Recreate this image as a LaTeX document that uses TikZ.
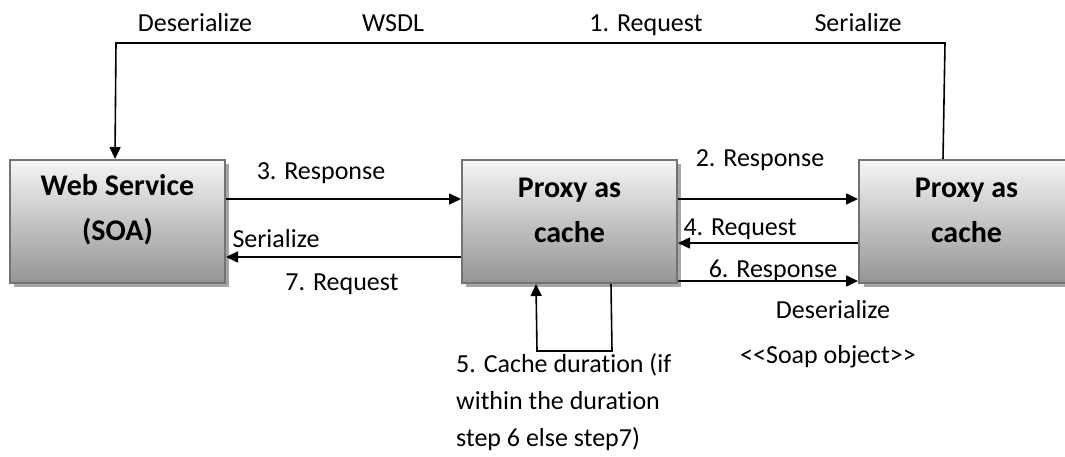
\documentclass[tikz,border=0pt]{standalone}
\usepackage{fontspec}
\setmainfont{Carlito}[Ligatures={NoCommon}]
\usetikzlibrary{arrows.meta,calc}
\tikzset{
  box/.style={rectangle, minimum width=215pt, minimum height=123pt, inner sep=0pt,
    top color=white!96!black, bottom color=black!42, draw=black!55, line width=2pt},
  boxtext/.style={align=center, font=\fontsize{30}{45}\selectfont\bfseries},
  lbl/.style={inner sep=0pt, anchor=base, font=\fontsize{26}{37}\selectfont},
  conn/.style={line width=1.6pt, -{Triangle[length=12pt,width=11pt]}},
}
\begin{document}
\begin{tikzpicture}[x=1pt,y=-1pt]
\useasboundingbox (0,0) rectangle (1065,457);
\clip (0,0) rectangle (1065,457);
% shadows
\fill[black!35] (14,164) rectangle (229,287);
\fill[black!35] (466,164) rectangle (681,287);
\fill[black!35] (864,164) rectangle (1079,287);
% boxes
\node[box] (ws) at (117.5,221.5) {};
\node[box] (p1) at (569.5,221.5) {};
\node[box] (p2) at (966.5,221.5) {};
\node[boxtext] (wst) at (117.5,210) {Web Service\\(SOA)};
\node[boxtext] (p1t) at (569.5,210) {Proxy as\\cache};
\node[boxtext] (p2t) at (966.5,210) {Proxy as\\cache};
% top loop
\coordinate (tr) at (945,43);
\coordinate (tl) at (116,43);
\draw[conn] ([xshift=85pt]p2.north west) -- (tr) -- (tl) -- ([xshift=106pt]ws.north west);
% horizontal connectors
\draw[conn] ([yshift=22.5pt]ws.east) -- ([yshift=22.5pt]p1.west);
\draw[conn] ([yshift=-35.5pt]p1.west) -- ([yshift=-35.5pt]ws.east);
\draw[conn] ([yshift=22.5pt]p1.east) -- ([yshift=22.5pt]p2.west);
\draw[conn] ([yshift=-21.5pt]p2.west) -- ([yshift=-21.5pt]p1.east);
\draw[conn] ([yshift=-59.5pt]p1.east) -- ([yshift=-59.5pt]p2.west);
% self loop
\coordinate (lr) at (612,351);
\coordinate (ll) at (537,351);
\draw[conn] ([xshift=150pt]p1.south west) -- (lr) -- (ll) -- ([xshift=75pt]p1.south west);
% labels
\node[lbl] (l1) at (195,32) {Deserialize};
\node[lbl] (l2) at (393,32) {WSDL};
\node[lbl] (l3) at (646,32) {1. Request};
\node[lbl] (l4) at (858,32) {Serialize};
\node[lbl] (l5) at (321,180) {3. Response};
\node[lbl] (l6) at (276,247) {Serialize};
\node[lbl] (l7) at (342,290) {7. Request};
\node[lbl] (l8) at (760,167) {2. Response};
\node[lbl] (l9) at (740,235) {4. Request};
\node[lbl] (l10) at (773,277) {6. Response};
\node[lbl] (l11) at (833,318) {Deserialize};
\node[lbl] (l12) at (828,363) {<{}<Soap object>{}>};
\node[lbl, align=left, anchor=base west] (l13) at (456,446) {5. Cache duration (if\\within the duration\\step 6 else step7)};
\end{tikzpicture}
\end{document}
